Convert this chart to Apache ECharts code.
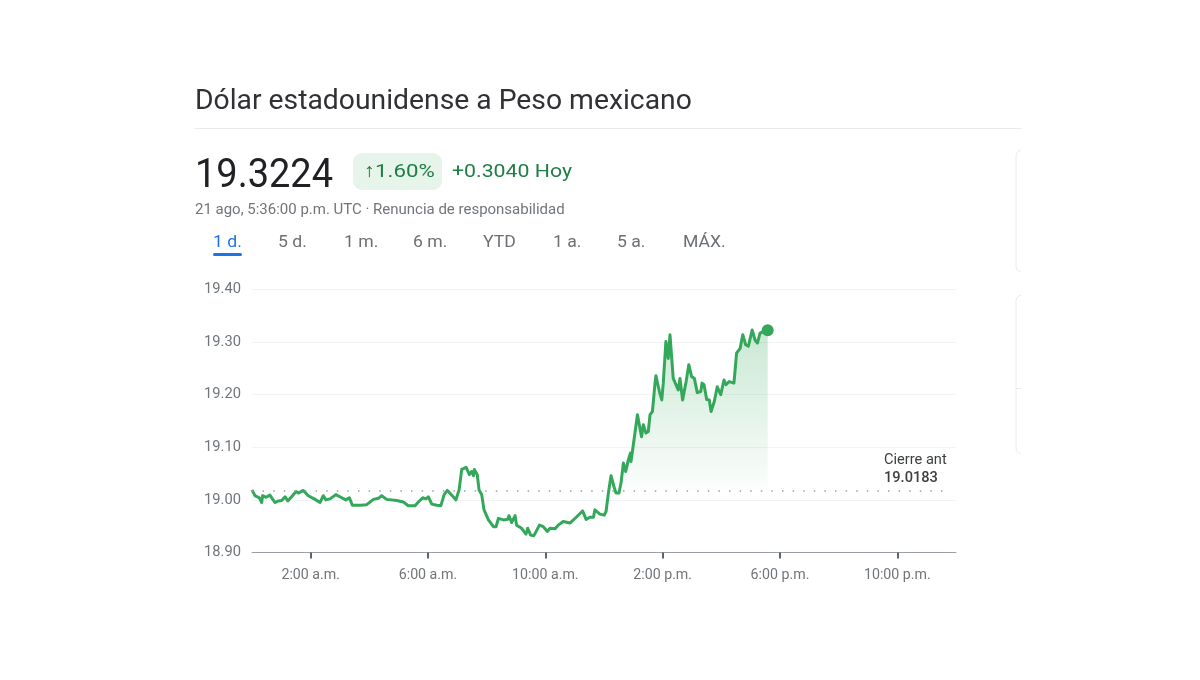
<!DOCTYPE html>
<html>
<head>
<meta charset="utf-8">
<title>Dólar estadounidense a Peso mexicano</title>
<style>
  html, body { margin: 0; padding: 0; background: #fff; }
  #chart { width: 1200px; height: 680px; }
</style>
<script src="https://cdn.jsdelivr.net/npm/echarts@6/dist/echarts.min.js"></script>
</head>
<body>
<div id="chart"></div>
<script>
// hours since midnight
const hours = [
  0.00, 0.10, 0.25, 0.33, 0.36, 0.48, 0.61, 0.78, 0.90, 1.01, 1.13, 1.22, 1.35, 1.50, 1.58, 1.75, 1.92, 2.15, 2.32, 2.43,
  2.52, 2.66, 2.86, 3.06, 3.20, 3.32, 3.42, 3.68, 3.91, 4.14, 4.31, 4.42, 4.59, 4.93, 5.16, 5.33, 5.56, 5.67, 5.82, 5.93,
  6.01, 6.13, 6.30, 6.44, 6.55, 6.66, 6.86, 6.95, 7.06, 7.15, 7.30, 7.41, 7.49, 7.55, 7.58, 7.68, 7.74, 7.83, 7.91, 8.06,
  8.23, 8.32, 8.40, 8.57, 8.72, 8.76, 8.85, 8.97, 9.02, 9.19, 9.34, 9.40, 9.50, 9.61, 9.80, 9.93, 10.07, 10.16, 10.33, 10.44,
  10.61, 10.84, 11.07, 11.27, 11.39, 11.52, 11.64, 11.69, 11.86, 12.01, 12.07, 12.15, 12.24, 12.34, 12.41, 12.51, 12.58, 12.66, 12.74, 12.83,
  12.90, 12.92, 13.00, 13.14, 13.28, 13.34, 13.43, 13.51, 13.57, 13.65, 13.74, 13.77, 13.89, 13.97, 14.02, 14.11, 14.19, 14.25, 14.36, 14.42,
  14.53, 14.59, 14.68, 14.80, 14.89, 14.99, 15.08, 15.18, 15.30, 15.34, 15.41, 15.50, 15.59, 15.65, 15.76, 15.86, 15.98, 16.09, 16.16, 16.27,
  16.43, 16.52, 16.64, 16.73, 16.83, 16.92, 17.05, 17.15, 17.23, 17.32, 17.43, 17.49, 17.58
];
const prices = [
  19.019, 19.008, 19.004, 18.995, 19.008, 19.005, 19.009, 18.995, 18.998, 18.999, 19.006, 18.998, 19.006, 19.016, 19.013, 19.018, 19.008, 19.001, 18.995, 19.008,
  19.000, 19.002, 19.010, 19.004, 19.000, 19.004, 18.990, 18.990, 18.991, 19.001, 19.003, 19.008, 19.001, 18.999, 18.996, 18.989, 18.989, 18.996, 19.004, 19.002,
  19.006, 18.992, 18.990, 18.989, 19.010, 19.018, 19.006, 19.000, 19.019, 19.058, 19.062, 19.048, 19.054, 19.046, 19.058, 19.048, 19.019, 19.010, 18.981, 18.962,
  18.949, 18.949, 18.965, 18.962, 18.963, 18.970, 18.957, 18.970, 18.952, 18.946, 18.935, 18.946, 18.933, 18.932, 18.952, 18.949, 18.940, 18.946, 18.945, 18.952,
  18.959, 18.956, 18.968, 18.979, 18.963, 18.967, 18.967, 18.981, 18.973, 18.971, 18.978, 19.013, 19.046, 19.025, 19.013, 19.013, 19.032, 19.070, 19.054, 19.076,
  19.089, 19.073, 19.105, 19.162, 19.120, 19.143, 19.127, 19.130, 19.162, 19.168, 19.222, 19.236, 19.206, 19.190, 19.222, 19.301, 19.269, 19.314, 19.231, 19.234,
  19.209, 19.231, 19.190, 19.225, 19.257, 19.234, 19.231, 19.204, 19.206, 19.222, 19.219, 19.191, 19.190, 19.168, 19.187, 19.215, 19.200, 19.228, 19.219, 19.225,
  19.222, 19.279, 19.288, 19.314, 19.295, 19.292, 19.323, 19.304, 19.298, 19.317, 19.320, 19.328, 19.3224
];
const prevClose = 19.0183;
const tickHours = [2, 6, 10, 14, 18, 22];
const tickLabels = ['2:00 a.m.', '6:00 a.m.', '10:00 a.m.', '2:00 p.m.', '6:00 p.m.', '10:00 p.m.'];
const ranges = ['1 d.', '5 d.', '1 m.', '6 m.', 'YTD', '1 a.', '5 a.', 'MÁX.'];
const rangeX = [213, 278, 344, 413, 483, 553, 617, 683];

const FONT = 'Roboto, sans-serif';
const GREEN = '#34a85a';

const line = hours.map((h, i) => [h, prices[i]]);
// only the last climb above the previous close is shaded
const fillStart = hours.indexOf(12.51);
const fill = line.slice(fillStart);
const last = line[line.length - 1];

function txt(x, y, text, size, color, weight, sx) {
  return {
    type: 'text', x: x, y: y, scaleX: sx || 1, silent: true,
    style: {
      text: text, fontSize: size, fontFamily: FONT, fontWeight: weight || 400,
      fill: color, textVerticalAlign: 'middle'
    }
  };
}

const graphics = [
  txt(195, 101.5, 'Dólar estadounidense a Peso mexicano', 28.3, '#303134'),
  { type: 'rect', shape: { x: 195, y: 128, width: 826, height: 1 }, style: { fill: '#e8eaed' } },
  txt(195, 177, '19.3224', 41, '#202124', 400, 0.926),
  { type: 'rect', shape: { x: 353, y: 153, width: 89, height: 37, r: 9 }, style: { fill: '#e6f4ea' } },
  txt(364, 172, '↑1.60%', 19, '#1e7e45', 400, 1.17),
  txt(452, 172, '+0.3040 Hoy', 19, '#1e7e45', 400, 1.12),
  txt(195, 210.5, '21 ago, 5:36:00 p.m. UTC · Renuncia de responsabilidad', 14, '#70757a', 400, 1.07),
  { type: 'rect', shape: { x: 213, y: 253, width: 29, height: 3, r: 1.5 }, style: { fill: '#1a73e8' } },
  txt(884, 460, 'Cierre ant', 14.6, '#3c4043'),
  txt(884, 478, '19.0183', 14.6, '#3c4043', 500),
  // cut off cards at the right edge
  { type: 'rect', shape: { x: 1016, y: 150, width: 12, height: 122, r: 8 }, style: { fill: '#fff', stroke: '#e8eaed', lineWidth: 1 } },
  { type: 'rect', shape: { x: 1016, y: 295, width: 12, height: 159, r: 8 }, style: { fill: '#fff', stroke: '#e8eaed', lineWidth: 1 } },
  { type: 'rect', shape: { x: 1016, y: 388, width: 5, height: 1 }, style: { fill: '#e8eaed' } },
  { type: 'rect', shape: { x: 1021, y: 140, width: 20, height: 330 }, style: { fill: '#fff' } }
];
ranges.forEach((r, i) => {
  graphics.push(txt(rangeX[i], 243, r, 16, i === 0 ? '#1a73e8' : '#6b6f74', 400, 1.1));
});

const chart = echarts.init(document.getElementById('chart'), null, { renderer: 'canvas' });
chart.setOption({
  backgroundColor: '#fff',
  animation: false,
  grid: { left: 252, right: 244, top: 289.5, height: 263 },
  xAxis: {
    type: 'value', min: 0, max: 24,
    splitLine: { show: false },
    axisLine: { lineStyle: { color: '#9aa0a6', width: 1 } },
    axisTick: { customValues: tickHours, length: 6, lineStyle: { color: '#5f6368', width: 2 } },
    axisLabel: {
      customValues: tickHours, margin: 16, fontFamily: FONT, fontSize: 14.2, color: '#70757a',
      formatter: v => tickLabels[tickHours.indexOf(v)]
    }
  },
  yAxis: {
    type: 'value', min: 18.9, max: 19.4, interval: 0.1,
    axisLine: { show: false }, axisTick: { show: false },
    splitLine: { lineStyle: { color: '#f1f3f4', width: 1 } },
    axisLabel: {
      margin: 11, fontFamily: FONT, fontSize: 14.7, color: '#70757a', padding: [2, 0, 0, 0],
      formatter: v => v.toFixed(2)
    }
  },
  series: [
    {
      type: 'line', data: fill, symbol: 'none', silent: true, z: 1,
      lineStyle: { width: 0 },
      areaStyle: {
        origin: prevClose,
        color: new echarts.graphic.LinearGradient(0, 0, 0, 1, [
          { offset: 0, color: 'rgba(52,168,90,0.38)' },
          { offset: 1, color: 'rgba(52,168,90,0.02)' }
        ])
      }
    },
    {
      type: 'line', data: line, symbol: 'none', z: 3,
      lineStyle: { color: GREEN, width: 3, join: 'round' },
      markLine: {
        silent: true, symbol: 'none', animation: false, label: { show: false },
        lineStyle: { color: '#9aa0a6', width: 1.5, type: [1.5, 9.1] },
        data: [[{ coord: [0, prevClose] }, { coord: [23.8, prevClose] }]]
      }
    },
    {
      type: 'scatter', data: [last], symbol: 'circle', symbolSize: 12, z: 4,
      itemStyle: { color: GREEN, opacity: 1 }
    }
  ],
  graphic: graphics
});
</script>
</body>
</html>
